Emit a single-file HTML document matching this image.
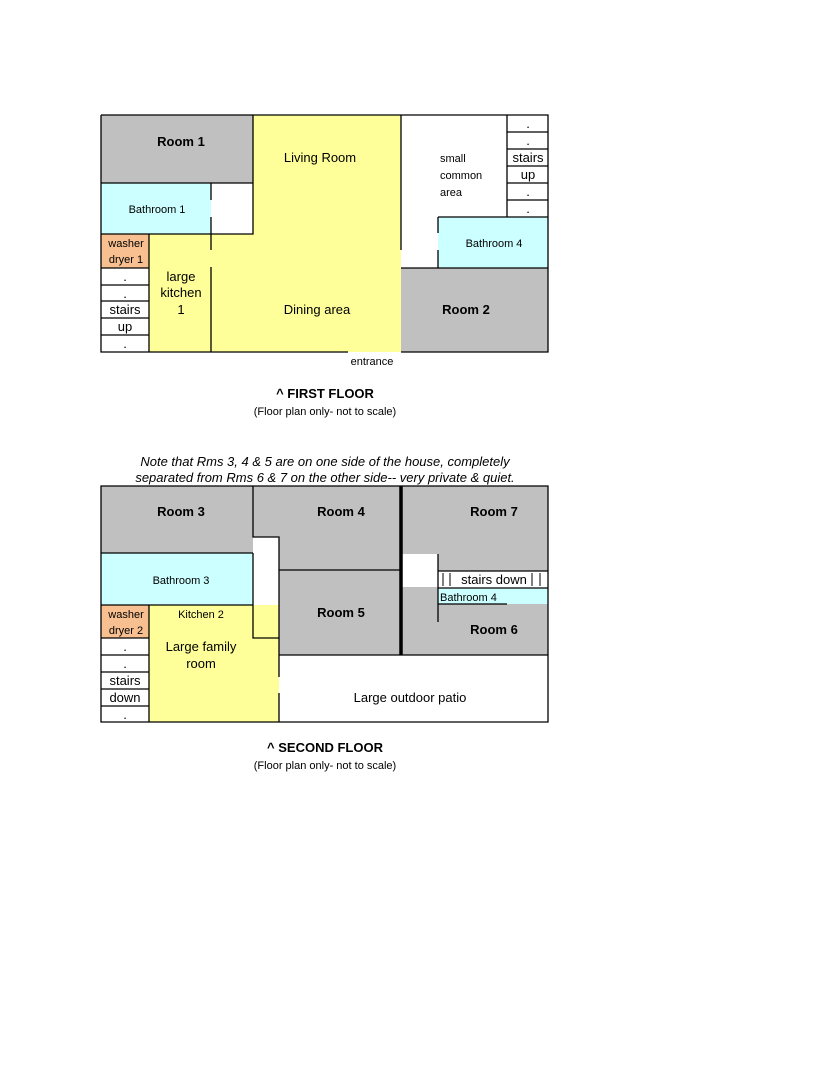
<!DOCTYPE html>
<html><head><meta charset="utf-8"><style>
html,body{margin:0;padding:0;background:#fff;}
svg{display:block;}
text{font-family:"Liberation Sans",Arial,sans-serif;fill:#000;}
.b{font-weight:bold;font-size:13px;}
.m{font-size:13px;}
.s{font-size:11px;}
</style></head><body>
<svg width="835" height="1080" viewBox="0 0 835 1080" xmlns="http://www.w3.org/2000/svg">
<g stroke="none">
<!-- FIRST FLOOR fills -->
<rect x="101" y="115" width="152" height="68" fill="#c0c0c0"/>
<rect x="253" y="115" width="148" height="237" fill="#ffff99"/>
<rect x="101" y="183" width="110" height="51" fill="#ccffff"/>
<rect x="149" y="234" width="104" height="118" fill="#ffff99"/>
<rect x="101" y="234" width="48" height="34" fill="#f8c090"/>
<rect x="438" y="217" width="110" height="51" fill="#ccffff"/>
<rect x="401" y="268" width="147" height="84" fill="#c0c0c0"/>
<!-- SECOND FLOOR fills -->
<rect x="101" y="486" width="447" height="169" fill="#c0c0c0"/>
<rect x="101" y="553" width="152" height="52" fill="#ccffff"/>
<rect x="253" y="537" width="26" height="101" fill="#fff"/>
<rect x="149" y="605" width="130" height="117" fill="#ffff99"/>
<rect x="253" y="638" width="26" height="84" fill="#ffff99"/>
<rect x="101" y="605" width="48" height="33" fill="#f8c090"/>
<rect x="101" y="638" width="48" height="84" fill="#fff"/>
<rect x="279" y="655" width="269" height="67" fill="#fff"/>
<rect x="401" y="554" width="37" height="33" fill="#fff"/>
<rect x="438" y="571" width="110" height="17" fill="#fff"/>
<rect x="438" y="588" width="110" height="16" fill="#ccffff"/>
</g>
<g stroke="#000" stroke-width="1.3" fill="none">
<!-- first floor outline -->
<path d="M101 115H548V352H401M348 352H101V115"/>
<path d="M101 183H253V115M253 115V234H211M211 183V200M211 217V250M211 267V352"/>
<path d="M149 234V352M101 234H211M101 268H149M101 285H149M101 301H149M101 318H149M101 335H149"/>
<path d="M401 115V250M401 268H548M507 115V217M438 217H548M438 217V233M438 250V268"/>
<path d="M507 132H548M507 149H548M507 166H548M507 183H548M507 200H548"/>
<!-- second floor -->
<path d="M101 486H548V722H101Z"/>
<path d="M101 553H253M101 605H253M253 486V537H279V638H253V553M253 537V486"/>
<path d="M149 605V722M101 638H149M101 655H149M101 672H149M101 689H149M101 706H149"/>
<path d="M279 570H401M279 655H548M279 638V677M279 693V722"/>
<path d="M438 554V622M438 571H548M438 588H548M438 604H507"/>
<path d="M443 573V586M450 573V586M532 573V586M540 573V586" stroke-width="1"/>
</g>
<path d="M401 486V655" stroke="#000" stroke-width="3.5"/>
<!-- text first floor -->
<text class="b" x="181" y="146" text-anchor="middle">Room 1</text>
<text class="m" x="320" y="162" text-anchor="middle">Living Room</text>
<text class="s" x="157" y="213" text-anchor="middle">Bathroom 1</text>
<text class="s" x="126" y="247" text-anchor="middle">washer</text>
<text class="s" x="126" y="263" text-anchor="middle">dryer 1</text>
<text class="m" x="181" y="281" text-anchor="middle">large</text>
<text class="m" x="181" y="297" text-anchor="middle">kitchen</text>
<text class="m" x="181" y="314" text-anchor="middle">1</text>
<text class="m" x="125" y="281" text-anchor="middle">.</text>
<text class="m" x="125" y="298" text-anchor="middle">.</text>
<text class="m" x="125" y="314" text-anchor="middle">stairs</text>
<text class="m" x="125" y="331" text-anchor="middle">up</text>
<text class="m" x="125" y="348" text-anchor="middle">.</text>
<text class="m" x="317" y="314" text-anchor="middle">Dining area</text>
<text class="s" x="440" y="162">small</text>
<text class="s" x="440" y="179">common</text>
<text class="s" x="440" y="196">area</text>
<text class="m" x="528" y="128" text-anchor="middle">.</text>
<text class="m" x="528" y="145" text-anchor="middle">.</text>
<text class="m" x="528" y="162" text-anchor="middle">stairs</text>
<text class="m" x="528" y="179" text-anchor="middle">up</text>
<text class="m" x="528" y="196" text-anchor="middle">.</text>
<text class="m" x="528" y="213" text-anchor="middle">.</text>
<text class="s" x="494" y="247" text-anchor="middle">Bathroom 4</text>
<text class="b" x="466" y="314" text-anchor="middle">Room 2</text>
<text class="s" x="372" y="365" text-anchor="middle">entrance</text>
<text class="b" x="325" y="398" text-anchor="middle">^ FIRST FLOOR</text>
<text class="s" x="325" y="415" text-anchor="middle">(Floor plan only- not to scale)</text>
<text class="m" x="325" y="466" text-anchor="middle" font-style="italic">Note that Rms 3, 4 &amp; 5 are on one side of the house, completely</text>
<text class="m" x="325" y="482" text-anchor="middle" font-style="italic">separated from Rms 6 &amp; 7 on the other side-- very private &amp; quiet.</text>
<!-- second floor text -->
<text class="b" x="181" y="516" text-anchor="middle">Room 3</text>
<text class="b" x="341" y="516" text-anchor="middle">Room 4</text>
<text class="b" x="494" y="516" text-anchor="middle">Room 7</text>
<text class="s" x="181" y="584" text-anchor="middle">Bathroom 3</text>
<text class="b" x="341" y="617" text-anchor="middle">Room 5</text>
<text class="m" x="494" y="584" text-anchor="middle">stairs down</text>
<text class="s" x="440" y="601">Bathroom 4</text>
<text class="b" x="494" y="634" text-anchor="middle">Room 6</text>
<text class="s" x="126" y="618" text-anchor="middle">washer</text>
<text class="s" x="126" y="634" text-anchor="middle">dryer 2</text>
<text class="s" x="201" y="618" text-anchor="middle">Kitchen 2</text>
<text class="m" x="201" y="651" text-anchor="middle">Large family</text>
<text class="m" x="201" y="668" text-anchor="middle">room</text>
<text class="m" x="125" y="651" text-anchor="middle">.</text>
<text class="m" x="125" y="668" text-anchor="middle">.</text>
<text class="m" x="125" y="685" text-anchor="middle">stairs</text>
<text class="m" x="125" y="702" text-anchor="middle">down</text>
<text class="m" x="125" y="719" text-anchor="middle">.</text>
<text class="m" x="410" y="702" text-anchor="middle">Large outdoor patio</text>
<text class="b" x="325" y="752" text-anchor="middle">^ SECOND FLOOR</text>
<text class="s" x="325" y="769" text-anchor="middle">(Floor plan only- not to scale)</text>
</svg>
</body></html>
